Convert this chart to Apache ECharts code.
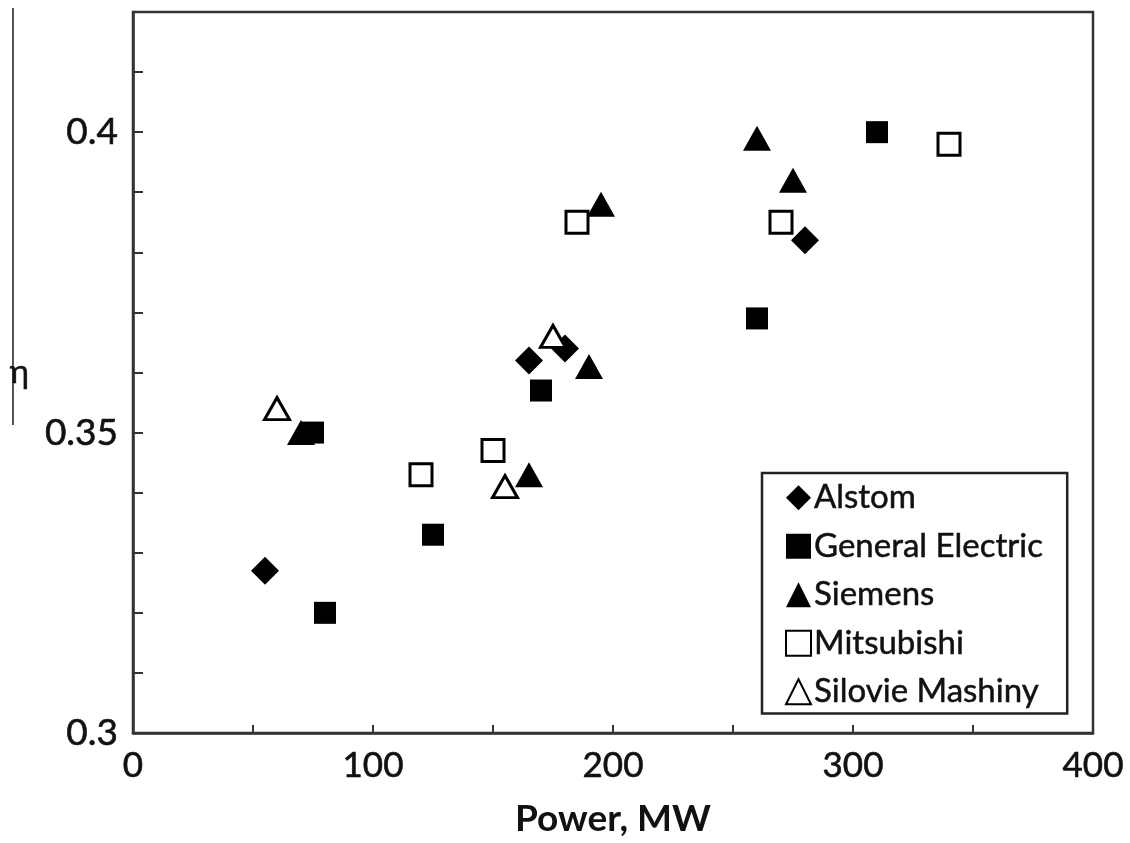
<!DOCTYPE html>
<html>
<head>
<meta charset="utf-8">
<script src="https://cdn.jsdelivr.net/npm/echarts@6/dist/echarts.min.js"></script>
<style>
html,body{margin:0;padding:0;background:#fff;}
#chart{width:1130px;height:843px;}
</style>
</head>
<body>
<div id="chart"></div>
<script>
// Data: [Power MW, efficiency]
var alstom = [[55, 0.327], [165, 0.362], [180, 0.364], [280, 0.382]];
var generalElectric = [[75, 0.350], [80, 0.320], [125, 0.333], [170, 0.357], [260, 0.369], [310, 0.400]];
var siemens = [[70, 0.350], [165, 0.343], [190, 0.361], [195, 0.388], [260, 0.399], [275, 0.392]];
var mitsubishi = [[120, 0.343], [150, 0.347], [185, 0.385], [270, 0.385], [340, 0.398]];
var silovieMashiny = [[60, 0.354], [155, 0.341], [175, 0.366]];

var xTickLabels = [0, 100, 200, 300, 400];
var yTickLabels = [0.3, 0.35, 0.4];

var FONT = 'Lato';
var chart = echarts.init(document.getElementById('chart'), null, {renderer: 'canvas'});

chart.setOption({
  backgroundColor: '#ffffff',
  animation: false,
  grid: {
    left: 133, right: 37, top: 12, bottom: 105,
    show: true, borderColor: '#333', borderWidth: 2.5,
    containLabel: false
  },
  legend: {
    orient: 'vertical',
    left: 762, top: 473,
    padding: [8, 24, 5, 23],
    itemGap: 15,
    itemWidth: 25, itemHeight: 25,
    borderColor: '#222', borderWidth: 2.5,
    backgroundColor: '#fff',
    textStyle: {fontFamily: FONT, fontSize: 33, color: '#111', padding: [0, 0, 0, -2],
                textBorderColor: '#111', textBorderWidth: 0.5},
    data: ['Alstom', 'General Electric', 'Siemens', 'Mitsubishi', 'Silovie Mashiny']
  },
  xAxis: {
    type: 'value', min: 0, max: 400, interval: 50,
    name: 'Power, MW', nameLocation: 'middle', nameGap: 68,
    nameTextStyle: {fontFamily: FONT, fontSize: 37, fontWeight: 'bold', color: '#111'},
    axisLine: {show: true, lineStyle: {color: '#333', width: 2.5}},
    axisTick: {show: true, inside: true, length: 8, lineStyle: {color: '#333', width: 2}},
    splitLine: {show: false},
    axisLabel: {
      fontFamily: FONT, fontSize: 35, color: '#111', margin: 15,
      textBorderColor: '#111', textBorderWidth: 0.6,
      formatter: function (v) { return xTickLabels.indexOf(Math.round(v)) >= 0 ? String(Math.round(v)) : ''; }
    }
  },
  yAxis: {
    type: 'value', min: 0.3, max: 0.42, interval: 0.01,
    name: 'η', nameLocation: 'middle', nameGap: 104, nameRotate: 0,
    nameTextStyle: {fontFamily: FONT, fontSize: 33, color: '#111', textBorderColor: '#111', textBorderWidth: 0.5},
    axisLine: {show: true, lineStyle: {color: '#333', width: 2.5}},
    axisTick: {show: true, inside: true, length: 10, lineStyle: {color: '#333', width: 2}},
    splitLine: {show: false},
    axisLabel: {
      fontFamily: FONT, fontSize: 37, color: '#111', margin: 15,
      textBorderColor: '#111', textBorderWidth: 0.6,
      formatter: function (v) {
        var r = Math.round(v * 1000) / 1000;
        for (var i = 0; i < yTickLabels.length; i++) {
          if (Math.abs(yTickLabels[i] - r) < 1e-6) return String(yTickLabels[i]);
        }
        return '';
      }
    }
  },
  graphic: [{
    type: 'line', silent: true,
    shape: {x1: 13, y1: 8, x2: 13, y2: 425},
    style: {stroke: '#555', lineWidth: 2}
  }],
  series: [
    {name: 'Alstom', type: 'scatter', data: alstom, symbol: 'diamond', symbolSize: [28, 28],
     itemStyle: {color: '#000', opacity: 1}},
    {name: 'General Electric', type: 'scatter', data: generalElectric, symbol: 'rect', symbolSize: 22,
     itemStyle: {color: '#000', opacity: 1}},
    {name: 'Siemens', type: 'scatter', data: siemens, symbol: 'triangle', symbolSize: [28, 25],
     itemStyle: {color: '#000', opacity: 1}},
    {name: 'Mitsubishi', type: 'scatter', data: mitsubishi, symbol: 'rect', symbolSize: 22,
     itemStyle: {color: '#fff', borderColor: '#000', borderWidth: 3, opacity: 1}},
    {name: 'Silovie Mashiny', type: 'scatter', data: silovieMashiny, symbol: 'triangle', symbolSize: [25, 22],
     itemStyle: {color: '#fff', borderColor: '#000', borderWidth: 3, opacity: 1}}
  ]
});
</script>
</body>
</html>
